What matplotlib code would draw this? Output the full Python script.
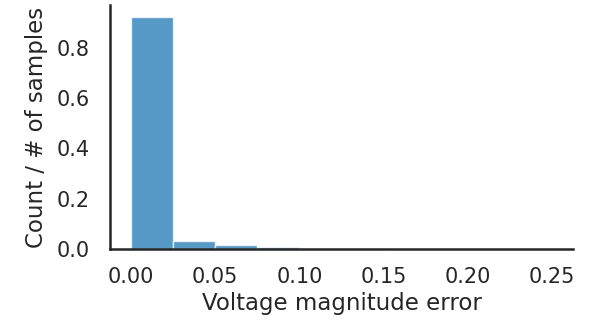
import matplotlib
matplotlib.use("Agg")
import matplotlib.pyplot as plt
import numpy as np
import seaborn as sns

# Histogram bins (voltage magnitude error) and normalised counts
bin_edges = [0.0, 0.025, 0.05, 0.075, 0.1, 0.125, 0.15, 0.175, 0.2, 0.225, 0.25]
fractions = [0.923, 0.033, 0.017, 0.009, 0.004, 0.003, 0.002, 0.001, 0.001, 0.001]

sns.set_style("white")
plt.rcParams["font.family"] = ["DejaVu Sans"]

fig, ax = plt.subplots(figsize=(5.98, 3.30), dpi=100)
fig.subplots_adjust(left=0.184, right=0.958, top=0.985, bottom=0.245)

edges = np.array(bin_edges)
ax.bar(edges[:-1], fractions, width=np.diff(edges), align="edge",
       color="tab:blue", alpha=0.75, edgecolor="white", linewidth=1)

ax.set_xlim(-0.0125, 0.2625)
ax.set_ylim(0, 0.97)
ax.set_xticks([0.0, 0.05, 0.10, 0.15, 0.20, 0.25])
ax.set_xticklabels(["0.00", "0.05", "0.10", "0.15", "0.20", "0.25"])
ax.set_yticks([0.0, 0.2, 0.4, 0.6, 0.8])
ax.tick_params(axis="x", labelsize=15, colors="#262626", pad=9)
ax.tick_params(axis="y", labelsize=15, colors="#262626", pad=11)
ax.set_xlabel("Voltage magnitude error", fontsize=16.5, color="#262626", labelpad=4)
ax.set_ylabel("Count / # of samples", fontsize=16.5, color="#262626", labelpad=6)
for side in ["left", "bottom"]:
    ax.spines[side].set_linewidth(1.8)
    ax.spines[side].set_color("#262626")
sns.despine(ax=ax)

fig.savefig("out.png", dpi=100)
